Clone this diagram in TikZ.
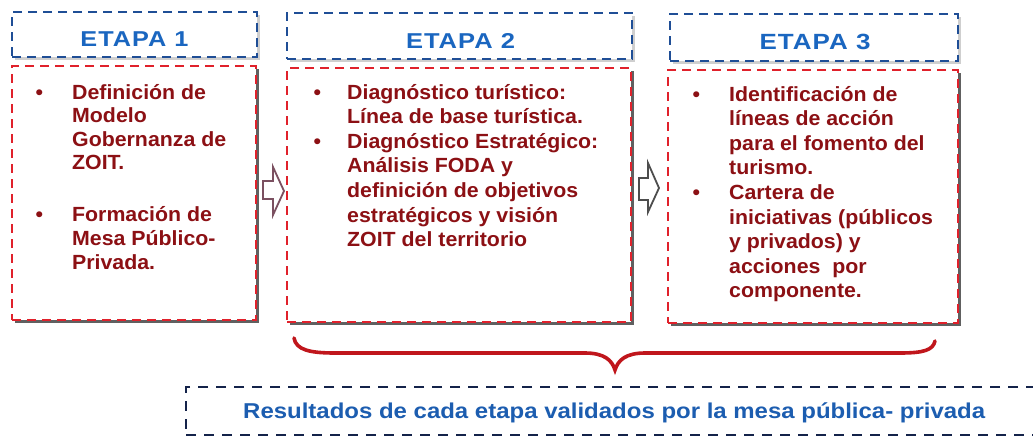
\documentclass[tikz,border=0pt]{standalone}
\usepackage{fontspec}
\usepackage{graphicx}
\setmainfont{Liberation Sans}
\newfontfamily\bodyfont[FakeStretch=1.04]{Liberation Sans}
\newfontfamily\hdrfont[LetterSpace=4]{Liberation Sans}
\newfontfamily\botfont{Liberation Sans}
\usetikzlibrary{shadows}
\definecolor{hdrblue}{HTML}{1F4E96}
\definecolor{hdrtxt}{HTML}{1A66C0}
\definecolor{bodyred}{HTML}{E0212B}
\definecolor{txtred}{HTML}{8C1014}
\definecolor{shdark}{HTML}{606060}
\definecolor{shlight}{HTML}{CFCFCF}
\definecolor{bracered}{HTML}{C0161C}
\definecolor{arrowA}{HTML}{7B5060}
\definecolor{arrowB}{HTML}{4D4D4D}
\definecolor{botdash}{HTML}{14234A}
\definecolor{bottxt}{HTML}{1C5DB0}
\newlength\hangw
\newcommand\itm[1]{\par\noindent\hangindent=\hangw\hangafter=1\makebox[\hangw][l]{\char"2022}#1}
\newcommand\bodytext[3]{\parbox[t]{320pt}{\setlength\hangw{#1}\bodyfont\fontsize{20.5}{#2}\selectfont\bfseries\setlength\parskip{0pt}\setlength\parindent{0pt}#3}}
\begin{document}
\begin{tikzpicture}[x=1pt,y=-1pt,
  hdrbox/.style={draw=hdrblue, line width=2pt, dash pattern=on 9pt off 6pt, fill=white,
    general shadow={fill=shlight, shadow xshift=3pt, shadow yshift=-3pt}, inner sep=0},
  bodybox/.style={draw=bodyred, line width=2pt, dash pattern=on 9pt off 6pt, fill=white,
    general shadow={fill=shdark, shadow xshift=3pt, shadow yshift=-3pt}, inner sep=0},
  botbox/.style={draw=botdash, line width=2.6pt, dash pattern=on 10pt off 8pt, fill=white, inner sep=0},
  hdrlabel/.style={text=hdrtxt, inner sep=0, anchor=base},
  bodylabel/.style={text=txtred, inner sep=0, anchor=base west},
  hollowarrow/.style={line width=1.8pt, fill=white, line join=miter},
  bracestyle/.style={draw=bracered, line width=3.6pt, line cap=round}]
\clip (0,0) rectangle (1033,437);
\fill[white] (0,0) rectangle (1033,437);

% headers
\node[hdrbox, minimum width=245, minimum height=45] (h1) at (134.5,34.5) {};
\node[hdrbox, minimum width=345, minimum height=46] (h2) at (459.5,36) {};
\node[hdrbox, minimum width=288, minimum height=47] (h3) at (814,37.5) {};
\node[hdrlabel] (h1t) at (134.5,46) {\resizebox{108pt}{\height}{\hdrfont\fontsize{21.5}{24}\selectfont\bfseries ETAPA 1}};
\node[hdrlabel] (h2t) at (460.5,48) {\resizebox{109pt}{\height}{\hdrfont\fontsize{21.5}{24}\selectfont\bfseries ETAPA 2}};
\node[hdrlabel] (h3t) at (815,49) {\resizebox{111pt}{\height}{\hdrfont\fontsize{22}{24}\selectfont\bfseries ETAPA 3}};

% bodies
\node[bodybox, minimum width=244, minimum height=254] (b1) at (134,193) {};
\node[bodybox, minimum width=344, minimum height=254] (b2) at (459,195) {};
\node[bodybox, minimum width=290, minimum height=253] (b3) at (813,196.5) {};

\node[bodylabel] (t1) at (35.3,99) {\bodytext{36.7pt}{23.6pt}{%
\itm{Definición de\\Modelo\\Gobernanza de\\ZOIT.}\par\vspace{28.4pt}%
\itm{Formación de\\Mesa Público-\\Privada.}}};
\node[bodylabel] (t2) at (313.3,99) {\bodytext{33.7pt}{24.65pt}{%
\itm{Diagnóstico turístico:\\Línea de base turística.}%
\itm{Diagnóstico Estratégico:\\Análisis FODA y\\definición de objetivos\\estratégicos y visión\\ZOIT del territorio}}};
\node[bodylabel] (t3) at (692.3,101) {\bodytext{36.7pt}{24.6pt}{%
\itm{Identificación de\\líneas de acción\\para el fomento del\\turismo.}%
\itm{Cartera de\\iniciativas (públicos\\y privados) y\\acciones\ \ por\\componente.}}};

% hollow arrows between stages
\draw[hollowarrow, draw=arrowA] (263,181) -- (273,181) -- (273,167) -- (284,191) -- (273,215) -- (273,199) -- (263,199) -- cycle;
\draw[hollowarrow, draw=arrowB] (639,178) -- (648,178) -- (648,163) -- (659,188) -- (648,212) -- (648,200) -- (639,200) -- cycle;

% brace
\draw[bracestyle] (294,338) .. controls (296,350) and (310,353) .. (335,353) -- (585,353)
  .. controls (604,353) and (612,360) .. (615,370)
  .. controls (618,360) and (626,353) .. (645,353) -- (900,353)
  .. controls (924,353) and (933,350) .. (935,341);

% bottom box
\node[botbox, minimum width=914, minimum height=48] (r) at (643,411) {};
\node[text=bottxt, inner sep=0, anchor=base west] (rt) at (243,418) {\resizebox{742pt}{\height}{\botfont\fontsize{21.5}{24}\selectfont\bfseries Resultados de cada etapa validados por la mesa pública- privada}};
\end{tikzpicture}
\end{document}
